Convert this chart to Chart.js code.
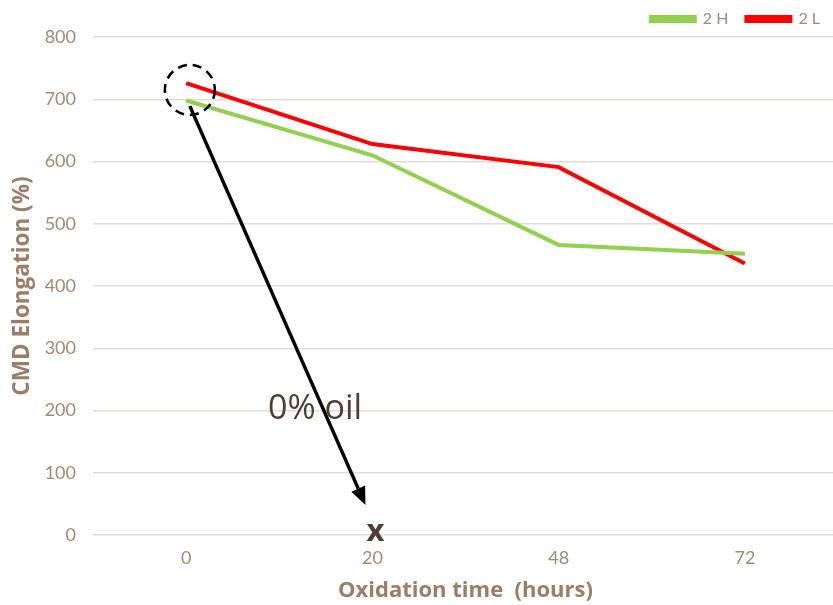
<!DOCTYPE html>
<html>
<head>
<meta charset="utf-8">
<script src="https://cdn.jsdelivr.net/npm/chart.js@4.4.1/dist/chart.umd.min.js"></script>
<style>
  html, body { margin: 0; padding: 0; background: #fff; overflow: hidden; }
  #wrap { width: 838px; height: 605px; }
</style>
</head>
<body>
<div id="wrap"><canvas id="c" width="838" height="605"></canvas></div>
<script>
// Oxidation time categories (hours)
const hours = ['0', '20', '48', '72'];
// CMD elongation (%) per sample
const elong2H = [698, 610, 466, 452];
const elong2L = [726, 628, 591, 436];
// Y axis ticks
const yTicks = [0, 100, 200, 300, 400, 500, 600, 700, 800];

const tickColor = '#a38a74';
const titleColor = '#9c7d66';
const gridColor = '#e4ddd6';

// Callout: dashed ring on the first point, arrow down to the "x" marker
const callout = {
  id: 'callout',
  afterDatasetsDraw(chart) {
    const { ctx, scales: { x, y } } = chart;
    ctx.save();
    // dashed ring
    const cx = x.getPixelForValue(0.02), cy = y.getPixelForValue(715);
    ctx.beginPath();
    ctx.setLineDash([9, 6]);
    ctx.lineWidth = 2.5;
    ctx.strokeStyle = '#000';
    ctx.arc(cx, cy, 25, 0, Math.PI * 2);
    ctx.stroke();
    ctx.setLineDash([]);
    // arrow
    const x0 = x.getPixelForValue(0.02), y0 = y.getPixelForValue(689);
    const x1 = x.getPixelForValue(0.963), y1 = y.getPixelForValue(48);
    const ang = Math.atan2(y1 - y0, x1 - x0);
    const head = 18;
    const bx = x1 - head * Math.cos(ang), by = y1 - head * Math.sin(ang);
    ctx.beginPath();
    ctx.moveTo(x0, y0);
    ctx.lineTo(bx, by);
    ctx.lineWidth = 3.5;
    ctx.stroke();
    ctx.beginPath();
    ctx.moveTo(x1, y1);
    ctx.lineTo(bx + 7.5 * Math.cos(ang + Math.PI / 2), by + 7.5 * Math.sin(ang + Math.PI / 2));
    ctx.lineTo(bx + 7.5 * Math.cos(ang - Math.PI / 2), by + 7.5 * Math.sin(ang - Math.PI / 2));
    ctx.closePath();
    ctx.fillStyle = '#000';
    ctx.fill();
    // labels
    ctx.fillStyle = '#4b3f36';
    ctx.font = '34px "Open Sans", sans-serif';
    ctx.textAlign = 'left';
    ctx.textBaseline = 'middle';
    ctx.fillText('0% oil', x.getPixelForValue(0.44), y.getPixelForValue(202));
    ctx.font = 'bold 31px "Open Sans", sans-serif';
    ctx.textAlign = 'center';
    ctx.fillText('x', x.getPixelForValue(1.017), y.getPixelForValue(4));
    ctx.restore();
  }
};

new Chart(document.getElementById('c'), {
  type: 'line',
  data: {
    labels: hours,
    datasets: [
      { label: '2 H', data: elong2H, borderColor: '#92d050', backgroundColor: '#92d050',
        borderWidth: 4, pointRadius: 0, tension: 0 },
      { label: '2 L', data: elong2L, borderColor: '#ff0000', backgroundColor: '#ff0000',
        borderWidth: 4, pointRadius: 0, tension: 0 }
    ]
  },
  options: {
    responsive: false,
    animation: false,
    layout: { padding: { left: 0, right: 0, top: -7, bottom: 0 } },
    plugins: {
      legend: {
        position: 'top',
        align: 'end',
        labels: {
          boxWidth: 44, boxHeight: 4, color: tickColor, padding: 18,
          font: { family: 'Lato, sans-serif', size: 16 }
        }
      },
      tooltip: { enabled: false }
    },
    scales: {
      x: {
        offset: true,
        afterFit(axis) { axis.height = 70; },
        grid: { display: false, drawTicks: false },
        border: { display: false },
        ticks: { color: tickColor, font: { family: 'Lato, sans-serif', size: 18 }, padding: 12 },
        title: { display: true, text: 'Oxidation time  (hours)', color: titleColor,
          font: { family: '"Open Sans", sans-serif', size: 22, weight: 'bold' }, padding: { top: 0, bottom: 1 } }
      },
      y: {
        min: 0, max: 800,
        afterFit(axis) { axis.width = 93; },
        afterBuildTicks(axis) { axis.ticks = yTicks.map(v => ({ value: v })); },
        grid: { color: gridColor, lineWidth: 1.5, drawTicks: false },
        border: { display: false },
        ticks: { color: tickColor, font: { family: 'Lato, sans-serif', size: 18 }, padding: 17 },
        title: { display: true, text: 'CMD Elongation (%)', color: titleColor,
          font: { family: '"Open Sans", sans-serif', size: 22.5, weight: 'bold' }, padding: { top: 9, bottom: 0 } }
      }
    }
  },
  plugins: [callout]
});
</script>
</body>
</html>
